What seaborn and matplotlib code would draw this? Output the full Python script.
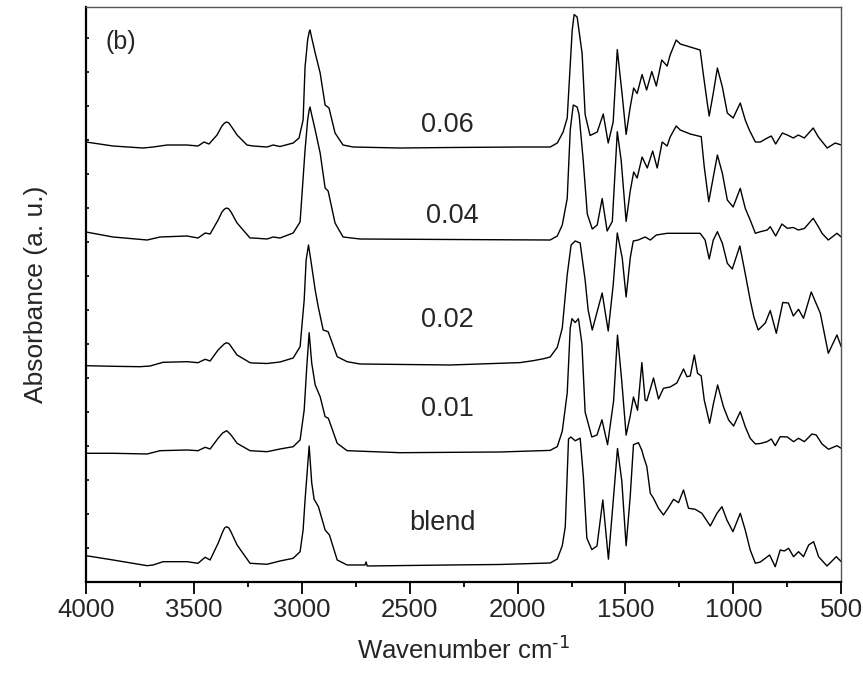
import numpy as np
import pandas as pd
import matplotlib
matplotlib.use("Agg")
import matplotlib.pyplot as plt
from matplotlib.ticker import MultipleLocator, NullFormatter
import seaborn as sns

# FTIR spectra (wavenumber in cm-1, absorbance in a.u., offset stacked)
wn_006 = [4000, 3875, 3736, 3689, 3624, 3532, 3481, 3453, 3430, 3393, 3370, 3358, 3348, 3338, 3328, 3300,
          3254, 3226, 3161, 3133, 3101, 3040, 3013, 2994, 2985, 2973, 2966, 2962, 2955, 2938, 2915, 2892,
          2874, 2846, 2809, 2762, 2544, 2312, 1988, 1849, 1816, 1789, 1770, 1747, 1738, 1724,
          1701, 1687, 1664, 1631, 1603, 1580, 1557, 1538, 1515, 1497, 1478, 1462, 1446, 1423,
          1402, 1378, 1357, 1332, 1307, 1293, 1265, 1246, 1200, 1154, 1140, 1121, 1112, 1093,
          1074, 1051, 1028, 1001, 968, 945, 926, 898, 875, 843, 824, 804, 773, 750, 722, 699,
          671, 630, 606, 565, 528, 500]
ab_006 = [440, 436, 434, 435, 437, 437, 436, 440, 438, 447, 456, 459, 460, 459, 456, 447,
          437, 436, 435, 437, 435.5, 439, 444, 462, 515, 542, 550, 552, 545, 529, 509, 477,
          474, 449, 437, 435, 434, 434.5, 435, 435, 439, 450, 464, 551.5, 567.5, 565,
          528.6, 467.5, 446.5, 450, 468, 439, 460, 532.4, 486.6, 447.6, 475, 494, 488.5, 507.5,
          492, 510.5, 496, 522, 516, 527, 542, 538, 535, 532, 509, 479, 466, 489,
          514, 495, 469, 464, 479, 462, 452, 440, 440, 444, 446, 438, 449, 447, 444, 447,
          444, 454, 445, 434, 439, 437]

wn_004 = [4000, 3875, 3717, 3657, 3532, 3481, 3448, 3425, 3388, 3370, 3358, 3348, 3338, 3328, 3300, 3240,
          3226, 3161, 3133, 3101, 3040, 3008, 2985, 2973, 2966, 2962, 2955, 2938, 2915, 2892, 2878, 2846,
          2809, 2730, 2312, 1849, 1816, 1793, 1770, 1756, 1742, 1724, 1715, 1696, 1677, 1654,
          1631, 1608, 1585, 1561, 1538, 1520, 1497, 1478, 1462, 1446, 1423, 1399, 1374, 1353,
          1330, 1307, 1293, 1265, 1246, 1200, 1149, 1135, 1114, 1093, 1074, 1051, 1028, 1001,
          968, 945, 922, 898, 875, 843, 829, 804, 775, 750, 722, 699, 671, 630, 606, 589,
          560, 520, 500]
ab_004 = [350, 345, 342, 345, 346, 344, 349, 348, 362, 370, 373, 374, 373, 370, 359, 344,
          344, 343, 345, 344, 349, 360, 432, 462, 472, 475, 468, 452, 429, 394, 391, 359,
          345, 343, 342.5, 342, 346, 357, 383.5, 452, 477, 475, 467.5, 422, 368, 353,
          357, 383.5, 351, 360.6, 450.3, 421.7, 360.6, 391, 410, 404, 425, 414, 431, 414,
          440, 436, 445, 456, 452, 448, 445.3, 415.3, 380.3, 405, 427, 408.7, 382, 375,
          393.7, 373.7, 362, 348.7, 350.3, 352, 355.3, 346, 358, 353.7, 354.5, 352, 353.5, 363.7, 355.3, 348.7,
          342, 348.7, 345]

wn_002 = [4000, 3875, 3750, 3703, 3643, 3532, 3481, 3448, 3425, 3388, 3360, 3348, 3336, 3300, 3240, 3226,
          3161, 3101, 3040, 3008, 2989, 2980, 2969, 2957, 2938, 2924, 2901, 2878, 2836, 2790,
          2730, 2312, 1988, 1928, 1881, 1849, 1816, 1793, 1770, 1752, 1733, 1710, 1687, 1673,
          1654, 1608, 1580, 1557, 1538, 1515, 1497, 1478, 1464, 1441, 1409, 1385, 1357, 1307,
          1154, 1131, 1112, 1093, 1074, 1051, 1028, 1005, 970, 950, 922, 905, 885, 852,
          829, 801, 771, 745, 722, 698, 675, 639, 597, 560, 520, 500]
ab_002 = [216.3, 215.7, 215.3, 216, 219.7, 220.3, 219.3, 222.7, 221, 232, 238, 239.3, 238, 227, 219.3, 219,
          218.5, 220, 224, 235.3, 282, 322, 337, 320, 292, 275.3, 252, 250.3, 225.3, 220.3,
          218, 217, 219.4, 221.3, 223.2, 225, 234.7, 253.8, 307.2, 337, 341, 339, 302, 272,
          252, 289, 251, 297, 349, 324, 285, 324, 341, 342, 345, 342, 347, 348.7,
          348.7, 342, 323, 342, 350.3, 338.7, 318.7, 313, 336, 314, 282, 265, 252, 259,
          271.5, 248.7, 279.5, 279, 266, 272.7, 263.7, 290, 268.7, 228.7, 247, 235.3]

wn_001 = [4000, 3875, 3717, 3657, 3532, 3481, 3448, 3425, 3388, 3367, 3348, 3328, 3300, 3240,
          3161, 3101, 3040, 3008, 2989, 2977, 2966, 2954, 2938, 2915, 2892, 2877, 2836, 2790,
          2544, 2081, 1849, 1816, 1793, 1770, 1756, 1748, 1733, 1718, 1702, 1687, 1656, 1632,
          1609, 1583, 1555, 1537, 1517, 1497, 1478, 1463, 1444, 1424, 1409, 1401, 1370, 1347,
          1324, 1293, 1262, 1231, 1215, 1200, 1181, 1166, 1149, 1135, 1110, 1092, 1073, 1046,
          1022, 999, 968, 945, 922, 898, 875, 844, 824, 806, 783, 750, 721, 698, 671, 636,
          616, 589, 559, 520, 500]
ab_001 = [128.7, 128.7, 128, 131.3, 132, 131.3, 134.7, 133, 143.7, 149, 151.3, 147, 138.7, 131.3,
          130.3, 133, 135.3, 142, 172, 215.3, 249.3, 218.7, 197, 185.3, 165.3, 163.7, 138.7, 131.3,
          129.3, 130, 131.6, 135.4, 150.7, 189, 254, 263.3, 259.5, 263.3, 238.5, 170, 145, 147,
          162.2, 137.3, 181.2, 246.9, 200.3, 146.9, 166, 185, 171.7, 219.4, 182, 181.2, 204, 183,
          193.7, 195, 199, 213, 205.3, 206, 227, 208.7, 206, 182, 158.7, 178.7, 197, 175.3,
          162, 156, 170.3, 155.3, 143.7, 138, 138.5, 140.3, 143, 136.3, 145.3, 145, 140.3, 143.7, 140.3, 148,
          147, 138, 132.7, 136.3, 133.7]

wn_blend = [4000, 3875, 3717, 3689, 3643, 3532, 3481, 3448, 3425, 3388, 3367, 3358, 3348, 3338, 3328, 3300,
            3240, 3161, 3101, 3040, 3008, 2994, 2985, 2966, 2954, 2943, 2923, 2892, 2872, 2836,
            2790, 2707, 2702, 2697, 2312, 2081, 1849, 1816, 1793, 1779, 1764, 1753, 1733, 1710,
            1695, 1679, 1656, 1632, 1605, 1579, 1555, 1537, 1517, 1497, 1478, 1463, 1440, 1424,
            1416, 1401, 1385, 1370, 1347, 1324, 1302, 1277, 1254, 1231, 1208, 1177, 1146, 1107,
            1076, 1053, 1030, 1002, 968, 945, 922, 898, 875, 852, 832, 806, 783, 764, 744, 721,
            698, 675, 651, 628, 605, 566, 523, 500]
ab_blend = [26.3, 22, 16.3, 17, 20.3, 20.3, 18.7, 24.7, 22, 38.7, 50, 54, 55.3, 54, 50, 37,
            18.7, 17.7, 21, 23.7, 30.3, 52, 82, 136, 99, 82.7, 75.3, 52, 47, 22,
            17, 17, 20, 16, 17, 17.5, 19, 23, 36.2, 55.3, 143, 145, 141.2, 143.8,
            105, 43.8, 32.4, 36, 82, 22.8, 85.8, 133.5, 101, 36.2, 85.8, 137.3, 139.3, 131.6,
            125.3, 115.3, 88.7, 83.7, 73.7, 67, 74, 82.7, 79.3, 92, 73.7, 72.7, 68.7, 56,
            68.7, 75.3, 62, 50.3, 68.7, 52, 32, 18.7, 20, 23.7, 27, 15.3, 32, 31, 33.7, 25.3,
            30.3, 25.3, 37, 40.3, 25.3, 16, 25.3, 20.3]

samples = ["0.06", "0.04", "0.02", "0.01", "blend"]
wavenumbers = [wn_006, wn_004, wn_002, wn_001, wn_blend]
absorbances = [ab_006, ab_004, ab_002, ab_001, ab_blend]
# where each trace label sits (wavenumber, absorbance)
label_x = [2326, 2303, 2326, 2326, 2350]
label_y = [457, 366, 262, 173, 59]

spectra = pd.concat([
    pd.DataFrame({"wavenumber": w, "absorbance": a, "sample": s})
    for s, w, a in zip(samples, wavenumbers, absorbances)
], ignore_index=True)

sns.set_style("ticks")
plt.rcParams["font.family"] = ["Liberation Sans", "DejaVu Sans"]
plt.rcParams["mathtext.default"] = "regular"

fig = plt.figure(figsize=(8.63, 6.81), dpi=100)
ax = fig.add_axes([0.0997, 0.1454, 0.8751, 0.8443])

for s in samples:
    sns.lineplot(data=spectra[spectra["sample"] == s], x="wavenumber", y="absorbance",
                 color="black", linewidth=1.0, estimator=None, ax=ax)

for s, lx, ly in zip(samples, label_x, label_y):
    ax.text(lx, ly, s, ha="center", va="center", fontsize=19.5)
ax.text(3838, 540, "(b)", ha="center", va="center", fontsize=18)

ax.set_xlim(4000, 500)
ax.set_ylim(0, 575)
ax.xaxis.set_major_locator(MultipleLocator(500))
ax.xaxis.set_minor_locator(MultipleLocator(250))
ax.yaxis.set_major_locator(MultipleLocator(34))
ax.yaxis.set_major_formatter(NullFormatter())

ax.tick_params(axis="x", which="major", direction="out", length=8.5, width=1.3,
               labelsize=18.5, pad=3, color="black")
ax.tick_params(axis="x", which="minor", direction="out", length=3.5, width=1.3, color="black")
ax.tick_params(axis="y", which="major", direction="in", length=2.5, width=1.2, color="black")
ax.tick_params(top=False, right=False)

for side in ["left", "bottom"]:
    ax.spines[side].set_linewidth(1.6)
    ax.spines[side].set_color("black")
for side in ["top", "right"]:
    ax.spines[side].set_linewidth(1.0)
    ax.spines[side].set_color("#555555")

ax.set_xlabel(r"Wavenumber cm$^{\text{-1}}$", fontsize=18.5, labelpad=10)
ax.set_ylabel("Absorbance (a. u.)", fontsize=19, labelpad=24)

fig.savefig("out.png", dpi=100)
